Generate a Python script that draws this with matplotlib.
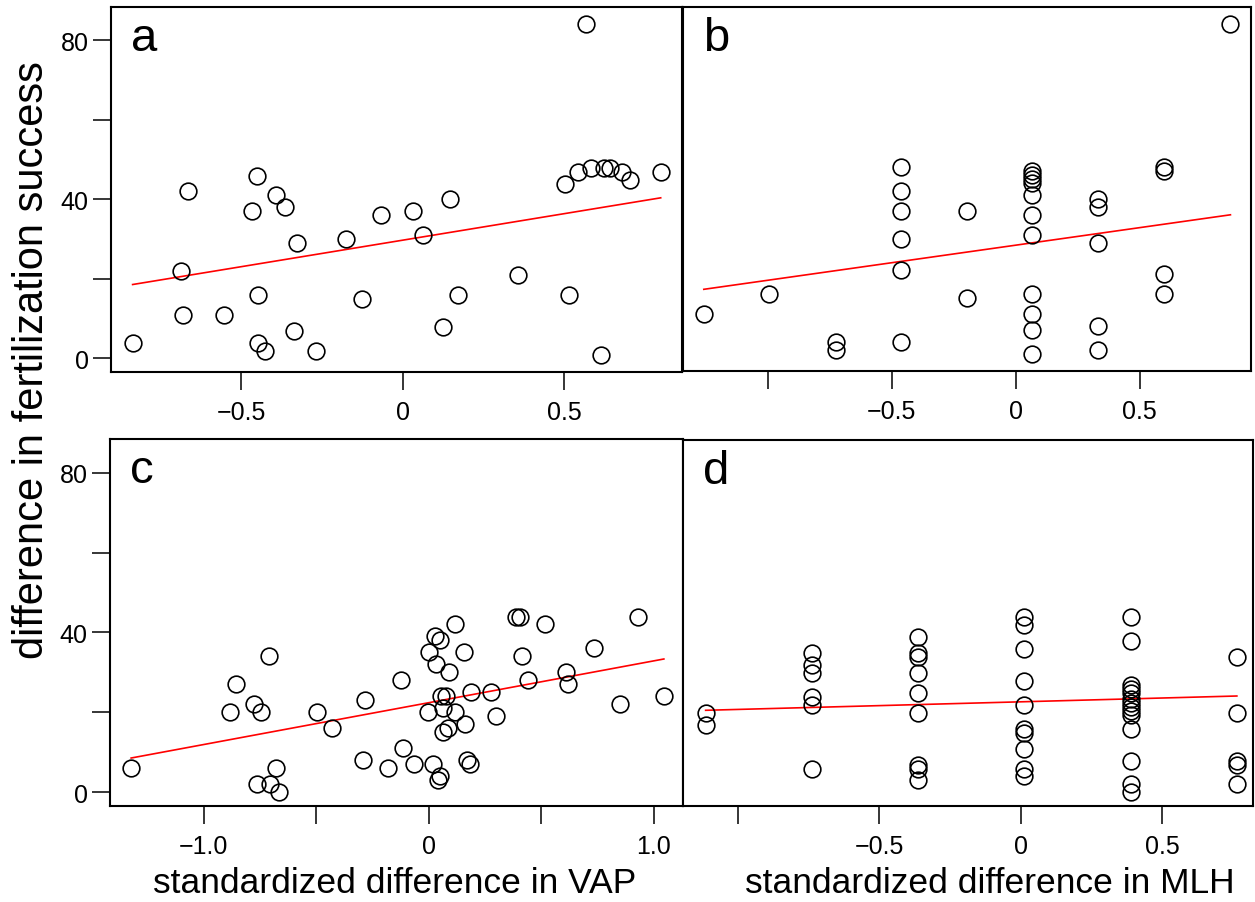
import matplotlib
matplotlib.use("Agg")
import matplotlib.pyplot as plt

plt.rcParams['font.family'] = ['Liberation Sans', 'DejaVu Sans']

# panel a: VAP
a_x = [-0.837, -0.665, -0.686, -0.681, -0.554, -0.452, -0.466, -0.391, -0.365, -0.448,
       -0.447, -0.428, -0.338, -0.326, -0.268, -0.174, -0.127, -0.067, 0.031, 0.063,
       0.125, 0.148, 0.173, 0.359, 0.503, 0.516, 0.544, 0.569, 0.585, 0.625,
       0.643, 0.616, 0.680, 0.704, 0.800]
a_y = [4, 42, 22, 11, 11, 46, 37, 41, 38, 16,
       4, 2, 7, 29, 2, 30, 15, 36, 37, 31,
       8, 40, 16, 21, 44, 16, 47, 84, 48, 48,
       48, 1, 47, 45, 47]

# panel b: MLH
b_x = [-1.259, -0.994, -0.727, -0.727,
       -0.464, -0.464, -0.464, -0.464, -0.464, -0.464,
       -0.197, -0.197,
       0.067, 0.067, 0.067, 0.067, 0.067, 0.067, 0.067, 0.067, 0.067, 0.067, 0.067,
       0.333, 0.333, 0.333, 0.333, 0.333,
       0.600, 0.600, 0.600, 0.600,
       0.867]
b_y = [11, 16, 4, 2,
       48, 42, 37, 30, 22, 4,
       37, 15,
       47, 46, 45, 44, 41, 36, 31, 16, 11, 7, 1,
       40, 38, 29, 8, 2,
       48, 47, 21, 16,
       84]

# panel c: VAP
c_x = [-1.322, -0.884, -0.856, -0.777, -0.744, -0.710, -0.762, -0.706, -0.677, -0.667,
       -0.498, -0.431, -0.290, -0.281, -0.182, -0.122, -0.114, -0.066, -0.002, 0.003,
       0.021, 0.028, 0.035, 0.051, 0.041, 0.050, 0.054, 0.076, 0.064, 0.066,
       0.086, 0.089, 0.117, 0.117, 0.157, 0.160, 0.170, 0.186, 0.188, 0.277,
       0.299, 0.389, 0.406, 0.414, 0.444, 0.518, 0.612, 0.622, 0.736, 0.851,
       0.931, 1.046]
c_y = [6, 20, 27, 22, 20, 34, 2, 2, 6, 0,
       20, 16, 8, 23, 6, 28, 11, 7, 20, 35,
       7, 39, 32, 38, 3, 4, 24, 24, 21, 15,
       16, 30, 42, 20, 35, 17, 8, 7, 25, 25,
       19, 44, 44, 34, 28, 42, 30, 27, 36, 22,
       44, 24]

# panel d: MLH
d_x = [-1.113, -1.113,
       -0.737, -0.737, -0.737, -0.737, -0.737, -0.737,
       -0.362, -0.362, -0.362, -0.362, -0.362, -0.362, -0.362, -0.362, -0.362,
       0.013, 0.013, 0.013, 0.013, 0.013, 0.013, 0.013, 0.013, 0.013, 0.013,
       0.389, 0.389, 0.389, 0.389, 0.389, 0.389, 0.389, 0.389, 0.389, 0.389, 0.389, 0.389, 0.389, 0.389,
       0.764, 0.764, 0.764, 0.764, 0.764]
d_y = [20, 17,
       35, 32, 30, 24, 22, 6,
       39, 35, 34, 30, 25, 20, 7, 6, 3,
       44, 42, 36, 28, 22, 16, 15, 11, 6, 4,
       44, 38, 27, 26, 25, 23.5, 22.5, 21.5, 20.5, 19.5, 16, 8, 2, 0,
       34, 20, 8, 7, 2]

# fitted lines (intercept, slope) as drawn in the figure
fit_a = (29.75, 13.32)
fit_b = (28.33, 8.84)
fit_c = (22.43, 10.46)
fit_d = (22.73, 1.91)

yticks = [0, 20, 40, 60, 80]
ytick_labels = ['0', '', '40', '', '80']

fig = plt.figure(figsize=(12.55, 9.03), dpi=100)

def px(l, t, r, b):
    return [l / 1255, 1 - b / 903, (r - l) / 1255, (b - t) / 903]

panels = [
    ('a', a_x, a_y, fit_a, px(111, 8, 682, 373), (-0.904, 0.866),
     [-0.5, 0, 0.5], ['\u22120.5', '0', '0.5'], True),
    ('b', b_x, b_y, fit_b, px(683, 8, 1251, 372), (-1.343, 0.950),
     [-1.0, -0.5, 0, 0.5], ['', '\u22120.5', '0', '0.5'], False),
    ('c', c_x, c_y, fit_c, px(110, 440, 683, 807), (-1.416, 1.131),
     [-1.0, -0.5, 0, 0.5, 1.0], ['\u22121.0', '', '0', '', '1.0'], True),
    ('d', d_x, d_y, fit_d, px(683, 441, 1253, 807), (-1.193, 0.821),
     [-1.0, -0.5, 0, 0.5], ['', '\u22120.5', '0', '0.5'], False),
]

for letter, xs, ys, fit, rect, xlim, xt, xtl, left in panels:
    ax = fig.add_axes(rect)
    ax.plot(xs, ys, 'o', mfc='none', mec='black', ms=12, mew=1.2, zorder=3)
    x0, x1 = min(xs), max(xs)
    ax.plot([x0, x1], [fit[0] + fit[1] * x0, fit[0] + fit[1] * x1],
            color='red', lw=1.2, zorder=2)
    ax.set_xlim(*xlim)
    ax.set_ylim(-3.4, 88.4)
    ax.set_xticks(xt)
    ax.set_xticklabels(xtl, fontsize=18)
    if left:
        ax.set_yticks(yticks)
        ax.set_yticklabels(ytick_labels, fontsize=18)
    else:
        ax.set_yticks([])
    ax.tick_params(direction='out', length=13, width=1.1, pad=7)
    ax.tick_params(axis='y', pad=3)
    for s in ax.spines.values():
        s.set_linewidth(1.5)
    ax.text(0.035, 0.975, letter, transform=ax.transAxes, ha='left', va='top',
            fontsize=34)

fig.text(32 / 1255, 1 - 360 / 903, 'difference in fertilization success',
         rotation=90, ha='center', va='center', fontsize=30)
fig.text(395 / 1255, 1 - 884 / 903, 'standardized difference in VAP',
         ha='center', va='center', fontsize=25.5)
fig.text(990 / 1255, 1 - 884 / 903, 'standardized difference in MLH',
         ha='center', va='center', fontsize=25.5)

fig.savefig('out.png', dpi=100)
